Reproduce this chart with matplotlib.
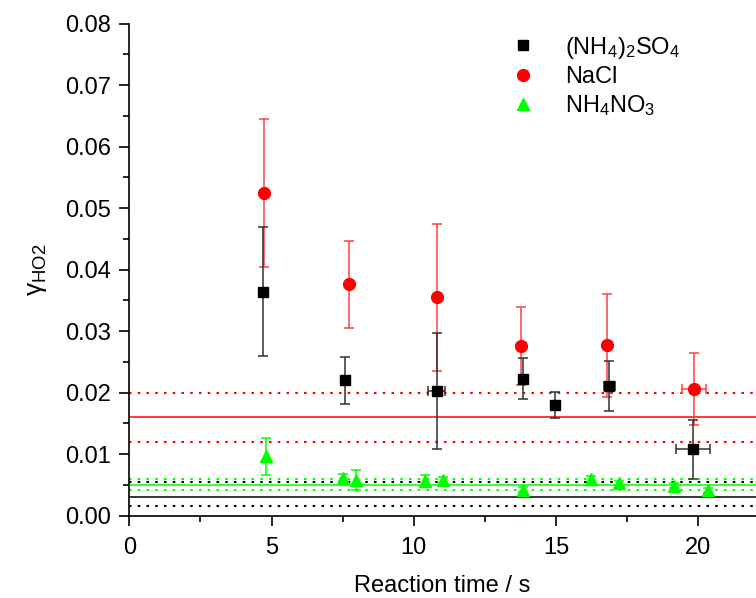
import matplotlib
matplotlib.use("Agg")
import matplotlib.pyplot as plt
from matplotlib.ticker import MultipleLocator, FormatStrFormatter

plt.rcParams['font.family'] = ['Liberation Sans', 'DejaVu Sans']
plt.rcParams['mathtext.fontset'] = 'custom'
plt.rcParams['mathtext.rm'] = 'Liberation Sans'
plt.rcParams['mathtext.it'] = 'Liberation Sans:italic'

# (NH4)2SO4
as_t = [4.69, 7.58, 10.80, 13.85, 14.95, 16.87, 19.82]
as_g = [0.0364, 0.0220, 0.0203, 0.0223, 0.0180, 0.0211, 0.0108]
as_gerr = [0.0105, 0.0038, 0.0094, 0.0034, 0.0021, 0.0041, 0.0048]
as_terr = [0.0, 0.0, 0.30, 0.0, 0.0, 0.20, 0.59]

# NaCl
nacl_t = [4.75, 7.73, 10.80, 13.77, 16.78, 19.85]
nacl_g = [0.0525, 0.0376, 0.0355, 0.0276, 0.0277, 0.0206]
nacl_gerr = [0.0120, 0.0071, 0.0119, 0.0064, 0.0084, 0.0059]
nacl_terr = [0.0, 0.0, 0.0, 0.0, 0.0, 0.42]

# NH4NO3
an_t = [4.79, 7.50, 7.97, 10.40, 11.03, 13.85, 16.24, 17.20, 19.15, 20.34]
an_g = [0.0097, 0.0062, 0.0058, 0.0057, 0.0058, 0.0042, 0.0059, 0.0053, 0.0049, 0.0041]
an_gerr = [0.0030, 0.0006, 0.0016, 0.0009, 0.0005, 0.0004, 0.0005, 0.0004, 0.0004, 0.0004]

# mean uptake coefficients with bounds (mean, upper, lower)
as_mean = (0.0030, 0.0055, 0.0015)
nacl_mean = (0.0160, 0.0200, 0.0120)
an_mean = (0.0050, 0.0060, 0.0041)

fig = plt.figure(figsize=(7.56, 5.98), dpi=100)
ax = fig.add_axes([0.171, 0.1376, 0.829, 0.8228])

dots = (0, (1.2, 3.0))
for (m, up, lo), c in [(nacl_mean, 'red'), (as_mean, 'black'), (an_mean, '#00ff00')]:
    ax.axhline(m, color=c, lw=1.1, zorder=1)
    ax.axhline(up, color=c, lw=1.5, ls=dots, zorder=1)
    ax.axhline(lo, color=c, lw=1.5, ls=dots, zorder=1)

ax.errorbar(nacl_t, nacl_g, yerr=nacl_gerr, xerr=nacl_terr, fmt='none',
            ecolor='#ff4040', elinewidth=1.1, capsize=3.8, capthick=1.1, zorder=2)
ax.errorbar(as_t, as_g, yerr=as_gerr, xerr=as_terr, fmt='none',
            ecolor='#303030', elinewidth=1.1, capsize=3.8, capthick=1.1, zorder=3)
ax.errorbar(an_t, an_g, yerr=an_gerr, fmt='none',
            ecolor='#00ff00', elinewidth=1.1, capsize=3.8, capthick=1.1, zorder=2)

ax.plot(as_t, as_g, 's', color='black', ms=7.5, ls='none', zorder=5,
        label=r'(NH$_\mathregular{4}$)$_\mathregular{2}$SO$_\mathregular{4}$')
ax.plot(nacl_t, nacl_g, 'o', color='red', ms=8.5, ls='none', zorder=4,
        label='NaCl')
ax.plot(an_t, an_g, '^', color='#00ff00', ms=8.5, ls='none', zorder=4,
        label=r'NH$_\mathregular{4}$NO$_\mathregular{3}$')

ax.set_xlim(0, 22.03)
ax.set_ylim(0, 0.08)
ax.xaxis.set_major_locator(MultipleLocator(5))
ax.xaxis.set_minor_locator(MultipleLocator(2.5))
ax.yaxis.set_major_locator(MultipleLocator(0.01))
ax.yaxis.set_minor_locator(MultipleLocator(0.005))
ax.yaxis.set_major_formatter(FormatStrFormatter('%.2f'))

for s in ('top', 'right'):
    ax.spines[s].set_visible(False)
for s in ('left', 'bottom'):
    ax.spines[s].set_linewidth(1.2)
ax.tick_params(which='major', length=7, width=1.2, labelsize=17, direction='out')
ax.tick_params(which='minor', length=4, width=1.2, direction='out')
ax.tick_params(axis='x', pad=8)
ax.tick_params(axis='y', pad=6)

ax.set_xlabel('Reaction time / s', fontsize=17, labelpad=12)
ax.set_ylabel(r'$\mathregular{\gamma_{HO2}}$', fontsize=19, labelpad=12)

leg = ax.legend(loc='upper left', bbox_to_anchor=(0.59, 0.997), frameon=False,
                fontsize=17, numpoints=1, handlelength=1.2, handletextpad=1.2,
                labelspacing=0.22, borderaxespad=0)

fig.savefig('out.png', dpi=100)
